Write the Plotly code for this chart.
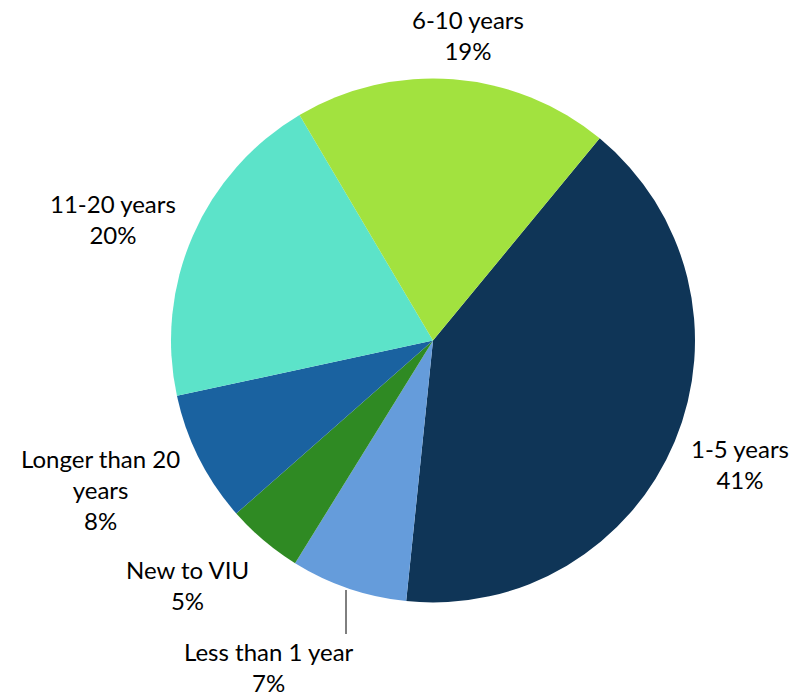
import plotly.graph_objects as go

labels = ["1-5 years", "Less than 1 year", "New to VIU", "Longer than 20 years", "11-20 years", "6-10 years"]
display_labels = ["1-5 years", "Less than 1 year", "New to VIU", "Longer than 20<br>years", "11-20 years", "6-10 years"]
values = [40.7, 7.2, 4.7, 8.1, 19.9, 19.5]
colors = ["#0F3557", "#659CDB", "#2F8A23", "#1A62A0", "#5CE3C9", "#A2E23F"]

W, H = 805, 696
# label centre positions in pixels (x, y)
label_pos = [(740, 464), (269, 667), (187, 585), (100, 490), (113, 219), (468, 35)]

fig = go.Figure(go.Pie(
    labels=labels,
    values=values,
    sort=False,
    direction="clockwise",
    rotation=39.5,
    marker=dict(colors=colors, line=dict(width=0)),
    textinfo="none",
    hoverinfo="label+percent",
    showlegend=False,
    domain=dict(x=[171 / W, 695 / W], y=[(H - 603) / H, (H - 78) / H]),
))

total = sum(values)
for lab, v, (px, py) in zip(display_labels, values, label_pos):
    fig.add_annotation(
        x=px / W, y=1 - py / H, xref="paper", yref="paper",
        text=f"{lab}<br>{round(v / total * 100)}%",
        showarrow=False, xanchor="center", yanchor="middle",
        font=dict(family="Lato", size=24, color="#000000"),
        align="center",
    )

fig.add_shape(type="line", xref="paper", yref="paper",
              x0=346 / W, x1=346 / W, y0=1 - 590 / H, y1=1 - 634 / H,
              line=dict(color="#000000", width=1))

fig.update_layout(
    width=W, height=H,
    margin=dict(l=0, r=0, t=0, b=0),
    paper_bgcolor="white", plot_bgcolor="white",
)

fig.write_html("out.html", config={"displayModeBar": False},
               post_script="document.body.style.margin='0';document.body.style.overflow='hidden';")
